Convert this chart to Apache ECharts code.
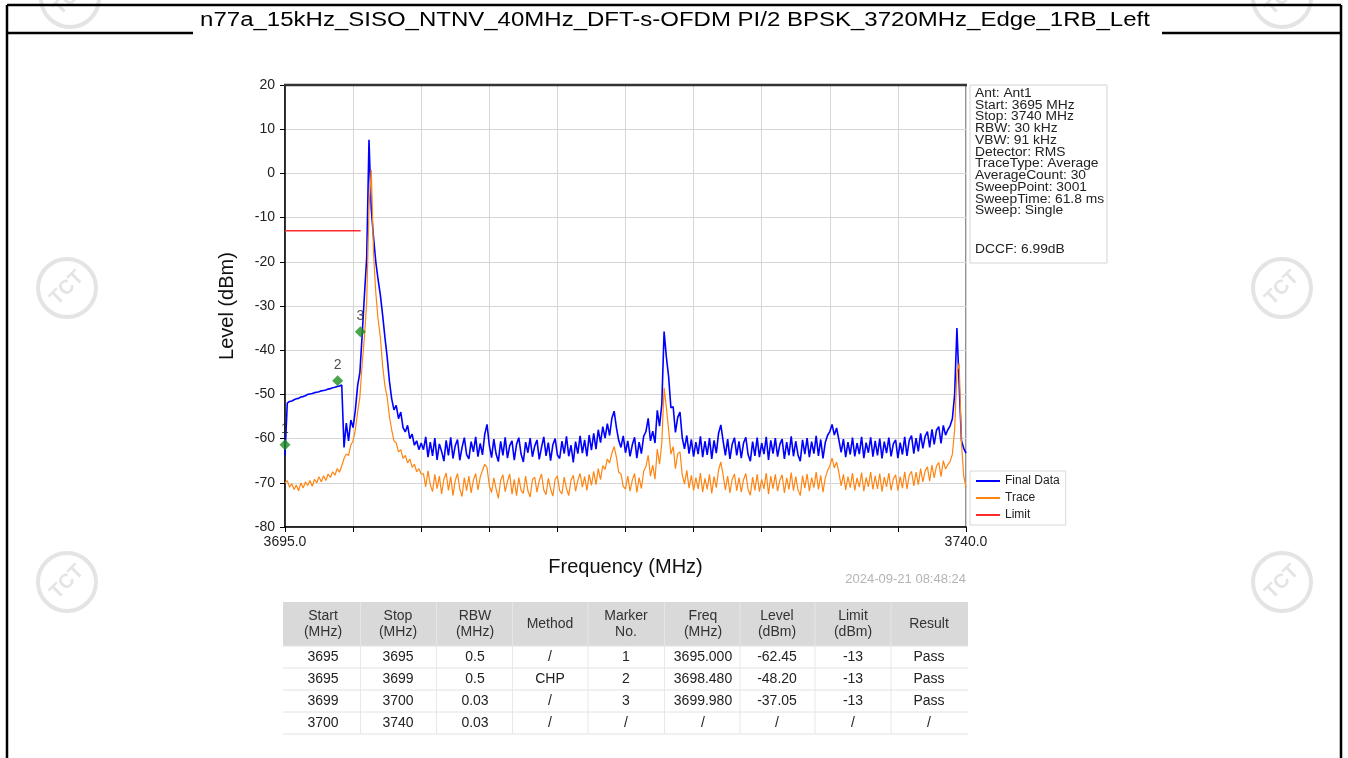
<!DOCTYPE html>
<html><head><meta charset="utf-8">
<script src="https://cdn.jsdelivr.net/npm/echarts@6/dist/echarts.min.js"></script>
<style>html,body{margin:0;padding:0;background:#fff;}#c{width:1348px;height:758px;}</style>
</head><body><div id="c"></div><script>
const titleText = 'n77a_15kHz_SISO_NTNV_40MHz_DFT-s-OFDM PI/2 BPSK_3720MHz_Edge_1RB_Left';
const freqStart = 3695.0, freqStop = 3740.0, freqStep = 0.15;
const xTickStep = 4.5;
const yMin = -80, yMax = 20, yStep = 10;

const finalData = [
-63.8,-52.0,-51.6,-51.5,-51.2,-51.0,-50.9,-50.6,-50.5,-50.3,
-50.0,-49.9,-49.8,-49.6,-49.5,-49.4,-49.2,-49.1,-49.0,-48.8,
-48.7,-48.5,-48.4,-48.2,-48.1,-47.9,-62.0,-56.5,-60.5,-55.8,
-57.5,-53.5,-48.0,-45.0,-36.5,-27.5,-19.0,7.6,-8.0,-14.5,
-20.0,-24.0,-27.5,-32.0,-37.0,-41.5,-47.0,-51.0,-53.5,-52.5,
-55.5,-54.0,-57.5,-58.5,-57.0,-60.0,-59.0,-61.5,-60.5,-62.5,-61.0,
-62.5,-59.6,-64.2,-60.8,-63.9,-59.9,-64.8,-61.2,-62.9,-65.1,
-60.4,-63.8,-59.7,-64.5,-61.6,-60.2,-64.9,-62.0,-59.8,-63.6,
-64.6,-60.7,-63.0,-59.6,-64.1,-61.1,-63.7,-59.0,-56.8,-61.5,
-64.3,-60.1,-63.5,-65.2,-60.6,-63.8,-59.7,-64.4,-61.6,-60.5,
-64.9,-61.3,-59.8,-63.5,-65.3,-60.8,-63.2,-59.9,-64.1,-61.7,
-60.3,-64.7,-62.0,-59.6,-63.9,-60.9,-65.0,-61.4,-60.0,-63.7,
-64.5,-60.6,-63.4,-59.5,-64.0,-61.5,-65.4,-60.7,-63.4,-59.4,
-63.3,-60.3,-64.0,-59.2,-62.6,-58.8,-62.4,-58.0,-60.9,-57.3,
-59.9,-56.6,-59.3,-55.4,-53.8,-57.5,-60.4,-62.0,-59.4,-63.2,
-60.5,-64.0,-61.4,-59.7,-64.4,-60.8,-63.4,-59.5,-58.4,-55.4,
-60.5,-58.3,-61.0,-53.6,-57.2,-52.2,-35.8,-41.5,-46.0,-53.0,
-52.8,-58.6,-55.2,-54.0,-59.8,-62.3,-59.3,-63.4,-60.2,-64.1,
-60.8,-63.5,-59.5,-64.2,-60.6,-63.7,-59.9,-64.6,-60.4,-63.3,
-58.8,-56.9,-60.5,-63.8,-60.1,-64.6,-61.3,-59.8,-63.8,-60.6,
-64.4,-61.0,-59.7,-63.6,-65.1,-60.7,-63.9,-59.8,-64.2,-61.0,
-63.5,-59.6,-64.8,-60.4,-63.4,-59.9,-64.1,-61.3,-60.1,-64.6,
-60.8,-63.8,-59.5,-64.0,-60.6,-63.7,-65.1,-60.3,-63.5,-59.9,
-64.2,-60.7,-63.4,-59.4,-63.9,-60.2,-64.5,-60.9,-59.3,-58.4,
-56.8,-59.2,-57.6,-60.3,-63.1,-60.1,-64.2,-60.8,-63.6,-59.8,
-64.0,-61.0,-63.5,-59.6,-64.4,-60.9,-63.2,-59.7,-64.1,-60.5,
-63.8,-60.0,-64.5,-60.7,-63.3,-59.8,-64.0,-61.2,-60.3,-64.4,
-60.9,-63.6,-59.6,-63.9,-60.4,-59.3,-63.4,-59.9,-62.9,-58.8,
-62.2,-59.5,-58.4,-62.0,-57.9,-61.3,-58.1,-57.3,-61.1,-57.0,
-59.2,-58.0,-57.1,-55.5,-50.0,-35.0,-48.0,-60.5,-62.2,-63.3
];

const traceData = [
-70.0,-69.5,-71.0,-70.2,-71.5,-70.5,-71.8,-70.0,-71.2,-69.8,
-70.6,-69.5,-70.8,-69.2,-70.0,-68.6,-69.8,-68.4,-69.5,-68.0,
-68.8,-67.5,-68.3,-66.8,-67.6,-66.2,-64.5,-63.5,-63.8,-61.5,
-60.5,-58.0,-54.0,-50.5,-43.0,-37.0,-29.0,-8.0,0.8,-18.0,
-27.0,-33.0,-37.0,-43.5,-48.0,-50.6,-55.0,-58.0,-60.5,-61.0,
-63.0,-62.5,-64.5,-63.8,-65.5,-64.6,-66.5,-65.8,-67.5,-66.8,-68.0,
-68.0,-70.9,-67.3,-70.4,-72.0,-68.1,-71.3,-68.5,-72.5,-69.2,
-67.8,-71.7,-68.6,-72.9,-69.5,-67.9,-71.4,-73.1,-68.8,-71.8,
-68.5,-72.3,-69.4,-67.9,-71.6,-68.7,-67.2,-65.8,-66.6,-70.6,
-72.2,-68.9,-71.4,-73.5,-69.4,-68.2,-72.0,-69.7,-68.0,-72.6,
-69.2,-72.9,-68.8,-71.7,-72.4,-68.5,-71.8,-73.2,-69.3,-68.7,
-72.1,-69.5,-68.0,-71.6,-72.7,-69.0,-71.4,-73.0,-69.2,-68.4,
-71.8,-72.5,-68.7,-71.3,-72.9,-69.4,-68.3,-71.9,-69.5,-67.9,
-71.0,-68.6,-71.7,-68.1,-70.6,-67.4,-70.4,-66.8,-69.3,-66.1,
-67.0,-64.6,-65.5,-63.3,-61.8,-64.2,-67.6,-68.0,-70.8,-71.4,
-68.5,-71.9,-69.4,-67.9,-72.2,-68.8,-71.3,-67.4,-66.3,-63.8,
-68.5,-66.0,-69.2,-62.4,-65.8,-61.0,-48.5,-53.0,-58.0,-63.5,
-61.8,-66.8,-63.4,-63.0,-68.2,-70.3,-67.2,-71.2,-68.3,-71.7,
-68.8,-71.4,-67.8,-72.1,-69.0,-71.5,-68.1,-72.4,-68.6,-71.1,
-67.1,-65.3,-68.2,-71.6,-68.5,-72.3,-69.2,-68.0,-71.8,-68.8,
-72.1,-69.3,-67.9,-71.5,-72.8,-68.7,-71.7,-68.1,-72.0,-69.2,
-71.4,-67.8,-72.6,-68.5,-71.3,-68.1,-71.9,-69.4,-68.2,-72.3,
-68.9,-71.5,-67.7,-71.8,-68.6,-71.6,-72.9,-68.4,-71.2,-68.0,
-71.9,-68.8,-71.1,-67.6,-71.5,-68.3,-72.1,-68.9,-67.3,-66.2,
-64.4,-66.6,-65.3,-67.7,-70.7,-68.1,-71.6,-68.6,-71.1,-67.8,
-71.7,-68.9,-71.0,-67.7,-71.9,-68.8,-70.9,-67.6,-71.5,-68.4,
-71.4,-67.9,-72.0,-68.7,-70.9,-67.8,-71.7,-69.1,-68.2,-71.8,
-68.6,-71.2,-67.5,-71.4,-68.3,-67.4,-70.7,-67.6,-70.4,-66.8,
-69.8,-67.3,-66.4,-69.6,-66.0,-68.9,-66.2,-65.4,-68.6,-65.0,
-66.9,-65.9,-65.2,-63.5,-58.0,-45.0,-43.0,-61.0,-68.5,-71.0
];

const limitFreqs = [3695.0, 3700.0];
const limitLevels = [-13, -13];
const markerFreqs = [3695.0, 3698.48, 3699.98];
const markerLevels = [-61.4, -46.9, -35.8];
const markerNames = ['1', '2', '3'];
const legendNames = ['Final Data', 'Trace', 'Limit'];
const infoLines = ['Ant: Ant1','Start: 3695 MHz','Stop: 3740 MHz','RBW: 30 kHz','VBW: 91 kHz','Detector: RMS','TraceType: Average','AverageCount: 30','SweepPoint: 3001','SweepTime: 61.8 ms','Sweep: Single'];
const dccfText = 'DCCF: 6.99dB';
const timestamp = '2024-09-21 08:48:24';
const tableHeader = ['Start\n(MHz)','Stop\n(MHz)','RBW\n(MHz)','Method','Marker\nNo.','Freq\n(MHz)','Level\n(dBm)','Limit\n(dBm)','Result'];
const tableRows = [
  ['3695','3695','0.5','/','1','3695.000','-62.45','-13','Pass'],
  ['3695','3699','0.5','CHP','2','3698.480','-48.20','-13','Pass'],
  ['3699','3700','0.03','/','3','3699.980','-37.05','-13','Pass'],
  ['3700','3740','0.03','/','/','/','/','/','/']
];

const FONT = '"Liberation Sans", Arial, sans-serif';
const chart = echarts.init(document.getElementById('c'), null, {renderer: 'canvas'});

const toXY = arr => arr.map((v, i) => [freqStart + i * freqStep, v]);

const g = [];
function wm(cx, cy, color) {
  g.push({type: 'group', x: cx, y: cy, rotation: Math.PI / 4, z: -10, silent: true, children: [
    {type: 'circle', shape: {cx: 0, cy: 0, r: 29}, style: {fill: 'none', stroke: color, lineWidth: 4}},
    {type: 'text', style: {x: 0, y: 0, text: 'TCT', fill: color, font: 'bold 20px ' + FONT, textAlign: 'center', textVerticalAlign: 'middle'}}
  ]});
}
[[70,-2],[67,288],[67,582],[1282,-2],[1282,288],[1282,582]].forEach(p => wm(p[0], p[1], '#e4e4e4'));

const blk = {stroke: '#000', lineWidth: 2.5};
g.push({type: 'line', shape: {x1: 7, y1: 5, x2: 1341, y2: 5}, style: blk});
g.push({type: 'line', shape: {x1: 7, y1: 5, x2: 7, y2: 758}, style: blk});
g.push({type: 'line', shape: {x1: 1341, y1: 5, x2: 1341, y2: 758}, style: blk});
g.push({type: 'line', shape: {x1: 7, y1: 33, x2: 193, y2: 33}, style: blk});
g.push({type: 'line', shape: {x1: 1162, y1: 33, x2: 1341, y2: 33}, style: blk});
g.push({type: 'text', x: 675, y: 20, scaleX: 1.2, style: {text: titleText, font: '20px ' + FONT, fill: '#000', textAlign: 'center', textVerticalAlign: 'middle'}});

g.push({type: 'line', z: 10, shape: {x1: 284, y1: 85, x2: 967, y2: 85}, style: {stroke: '#333', lineWidth: 2.5}});

g.push({type: 'rect', shape: {x: 970, y: 85, width: 137, height: 178}, style: {fill: '#fff', stroke: '#d4d4d4', lineWidth: 1}});
infoLines.forEach((t, i) => {
  g.push({type: 'text', x: 975, y: 93.5 + i * 11.75, scaleX: 1.15, style: {text: t, font: '12px ' + FONT, fill: '#222', textAlign: 'left', textVerticalAlign: 'middle'}});
});
g.push({type: 'text', x: 975, y: 250, scaleX: 1.15, style: {text: dccfText, font: '12px ' + FONT, fill: '#222', textAlign: 'left', textVerticalAlign: 'middle'}});

g.push({type: 'text', x: 966, y: 579, style: {text: timestamp, font: '13px ' + FONT, fill: '#b4b4b4', textAlign: 'right', textVerticalAlign: 'middle'}});

const colCenters = [323, 398, 475, 550, 626, 703, 777, 853, 929];
const colEdges = [283, 360.5, 436.5, 512.5, 588, 664.5, 740, 815, 891, 968];
const headTop = 602, headBot = 646, rowH = 22;
g.push({type: 'rect', shape: {x: 283, y: headTop, width: 685, height: headBot - headTop}, style: {fill: '#d9d9d9'}});
for (let r = 0; r <= tableRows.length; r++) {
  const y = headBot + r * rowH;
  g.push({type: 'line', shape: {x1: 283, y1: y, x2: 968, y2: y}, style: {stroke: '#e2e2e2', lineWidth: 1}});
}
for (let c = 1; c < colEdges.length - 1; c++) {
  g.push({type: 'line', shape: {x1: colEdges[c], y1: headTop, x2: colEdges[c], y2: headBot}, style: {stroke: '#e6e6e6', lineWidth: 1}});
  g.push({type: 'line', shape: {x1: colEdges[c], y1: headBot, x2: colEdges[c], y2: headBot + rowH * tableRows.length}, style: {stroke: '#e8e8e8', lineWidth: 1}});
}
tableHeader.forEach((t, c) => {
  g.push({type: 'text', x: colCenters[c], y: (headTop + headBot) / 2, style: {text: t, font: '14px ' + FONT, lineHeight: 16, fill: '#333', textAlign: 'center', textVerticalAlign: 'middle'}});
});
tableRows.forEach((row, r) => {
  row.forEach((t, c) => {
    g.push({type: 'text', x: colCenters[c], y: headBot + r * rowH + rowH / 2, style: {text: t, font: '14px ' + FONT, fill: '#222', textAlign: 'center', textVerticalAlign: 'middle'}});
  });
});

const option = {
  animation: false,
  backgroundColor: '#fff',
  textStyle: {fontFamily: FONT},
  grid: {left: 285, top: 85, width: 681, height: 442, show: true, borderColor: '#222', borderWidth: 1, backgroundColor: 'transparent'},
  legend: {
    data: legendNames, left: 970, top: 471, orient: 'vertical', icon: 'rect', itemWidth: 24, itemHeight: 2, itemGap: 5,
    padding: [4, 6, 4, 6], borderColor: '#d8d8d8', borderWidth: 1, backgroundColor: '#fff',
    textStyle: {fontSize: 12, color: '#222', fontFamily: FONT}
  },
  xAxis: {
    type: 'value', min: freqStart, max: freqStop, interval: xTickStep,
    name: 'Frequency (MHz)', nameLocation: 'middle', nameGap: 30,
    nameTextStyle: {fontSize: 20, color: '#111', fontFamily: FONT},
    axisLine: {show: true, onZero: false, lineStyle: {color: '#000', width: 1.5}},
    axisTick: {show: true, length: 5, lineStyle: {color: '#000'}},
    axisLabel: {show: true, fontSize: 14, color: '#222', margin: 8, showMinLabel: true, showMaxLabel: true,
      formatter: v => (Math.abs(v - freqStart) < 1e-6 || Math.abs(v - freqStop) < 1e-6) ? v.toFixed(1) : ''},
    splitLine: {show: true, lineStyle: {color: '#d6d6d6', width: 1}}
  },
  yAxis: {
    type: 'value', min: yMin, max: yMax, interval: yStep,
    name: 'Level (dBm)', nameLocation: 'middle', nameGap: 48,
    nameTextStyle: {fontSize: 20, color: '#111', fontFamily: FONT},
    axisLine: {show: true, onZero: false, lineStyle: {color: '#000', width: 1.5}},
    axisTick: {show: true, length: 5, lineStyle: {color: '#000'}},
    axisLabel: {fontSize: 14, color: '#222', margin: 10},
    splitLine: {show: true, lineStyle: {color: '#d6d6d6', width: 1}}
  },
  graphic: g,
  series: [
    {name: 'Final Data', type: 'line', data: toXY(finalData), showSymbol: false, symbol: 'none', color: '#0000ff', lineStyle: {width: 1.6, color: '#0000ff'}, z: 3},
    {name: 'Trace', type: 'line', data: toXY(traceData), showSymbol: false, symbol: 'none', color: '#ff8410', lineStyle: {width: 1.2, color: '#ff8410'}, z: 4},
    {name: 'Limit', type: 'line', data: limitFreqs.map((f, i) => [f, limitLevels[i]]), showSymbol: false, symbol: 'none', color: '#ff2a2a', lineStyle: {width: 1.5, color: '#ff2a2a'}, z: 5},
    {name: 'Markers', type: 'scatter', data: markerFreqs.map((f, i) => ({value: [f, markerLevels[i]], name: markerNames[i]})),
      symbol: 'diamond', symbolSize: 11, itemStyle: {color: '#1e8e1e'}, z: 6,
      label: {show: true, position: 'top', distance: 3, formatter: '{b}', fontSize: 14, color: '#222'}}
  ]
};
chart.setOption(option);
</script></body></html>
